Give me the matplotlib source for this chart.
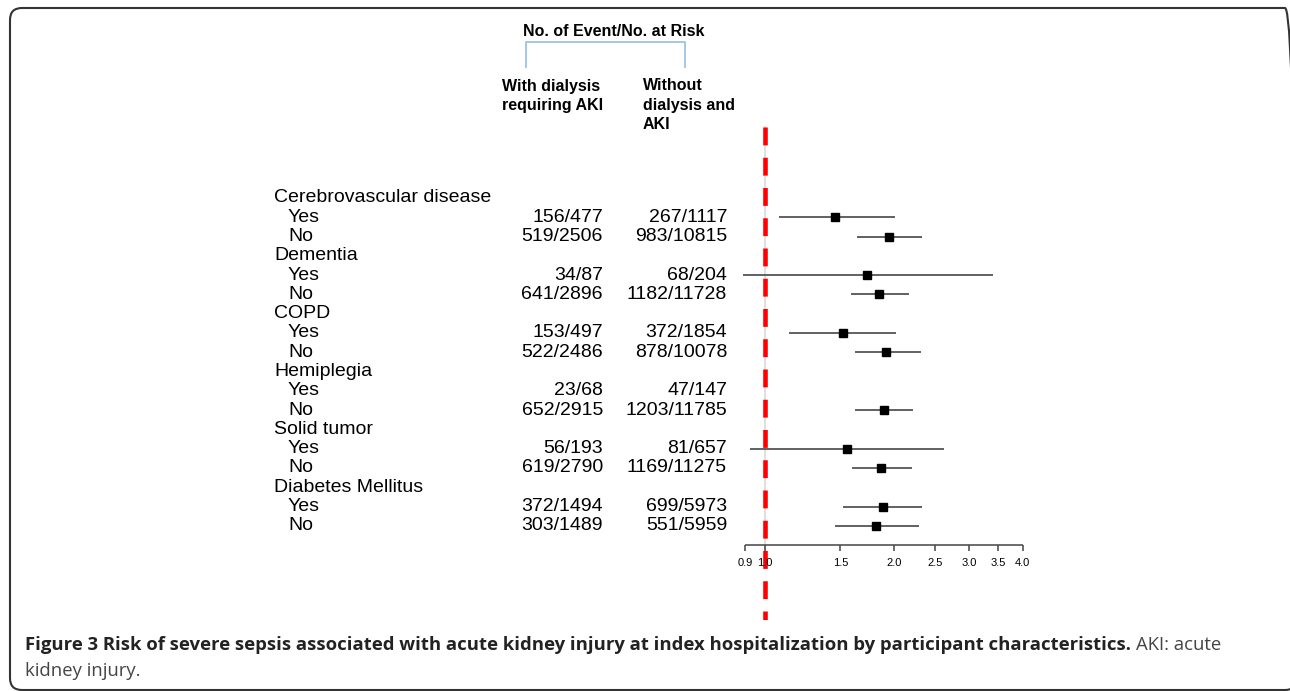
import numpy as np
import matplotlib
matplotlib.use('Agg')
import matplotlib.pyplot as plt
from matplotlib.patches import FancyBboxPatch
from matplotlib.transforms import blended_transform_factory, IdentityTransform

# --- dati ---
groups = ['Cerebrovascular disease', 'Dementia', 'COPD', 'Hemiplegia', 'Solid tumor', 'Diabetes Mellitus']
levels = ['Yes', 'No']
with_aki = ['156/477', '519/2506', '34/87', '641/2896', '153/497', '522/2486',
            '23/68', '652/2915', '56/193', '619/2790', '372/1494', '303/1489']
without_aki = ['267/1117', '983/10815', '68/204', '1182/11728', '372/1854', '878/10078',
               '47/147', '1203/11785', '81/657', '1169/11275', '699/5973', '551/5959']
hr = [1.46, 1.95, 1.73, 1.85, 1.52, 1.92, np.nan, 1.90, 1.55, 1.87, 1.89, 1.82]
ci_lo = [1.08, 1.64, 0.89, 1.59, 1.14, 1.62, np.nan, 1.62, 0.92, 1.60, 1.52, 1.46]
ci_hi = [2.01, 2.33, 3.41, 2.17, 2.02, 2.31, np.nan, 2.22, 2.62, 2.20, 2.33, 2.29]
ticks = [0.9, 1.0, 1.5, 2.0, 2.5, 3.0, 3.5, 4.0]
tick_labels = ['0.9', '1.0', '1.5', '2.0', '2.5', '3.0', '3.5', '4.0']

W, H = 1290, 691
fig = plt.figure(figsize=(W / 100, H / 100), dpi=100)


def px(x, y):
    return x / W, 1 - y / H


font = 'Liberation Sans'

# forest plot axes
ax = fig.add_axes([730 / W, (H - 620) / H, 310 / W, 500 / H])
ax.set_xscale('log')
ax.set_xlim(0.8284, 4.386)
ax.set_ylim(21.88, -4.04)
ax.axis('off')

# righe: gruppo, Yes, No
group_rows = [3 * i for i in range(len(groups))]
item_rows = []
for g in group_rows:
    item_rows += [g + 1, g + 2]
item_rows = np.array(item_rows)

trans = blended_transform_factory(fig.transFigure, ax.transData)
for g, name in zip(group_rows, groups):
    fig.text(274 / W, g, name, transform=trans, ha='left', va='center',
             fontsize=14, family=font)
for i, r in enumerate(item_rows):
    fig.text(288 / W, r, levels[i % 2], transform=trans, ha='left', va='center',
             fontsize=14, family=font)
    fig.text(603 / W, r, with_aki[i], transform=trans, ha='right', va='center',
             fontsize=14, family=font)
    fig.text(727 / W, r, without_aki[i], transform=trans, ha='right', va='center',
             fontsize=14, family=font)

# linea di riferimento grigia + linea rossa tratteggiata
ax.plot([1.0, 1.0], [-3.7, 18.3], color='#d9d9d9', lw=1.2, zorder=1)
ax.plot([1.0, 1.0], [-3.68, 21.88], color='#ff0000', lw=3.3,
        linestyle=(0, (3.9, 2.7)), zorder=2, solid_capstyle='butt')

# intervalli di confidenza
ax.hlines(item_rows, ci_lo, ci_hi, color='#555555', lw=1.3, zorder=3)
ax.plot(hr, item_rows, 's', color='black', ms=5.6, zorder=4)

# asse x disegnato a mano
axis_row = 18.0
ax.hlines(axis_row, ticks[0], ticks[-1], color='#444444', lw=1.1)
ax.vlines(ticks, axis_row, axis_row + 0.3, color='#444444', lw=1.1)
for t, lab in zip(ticks, tick_labels):
    ax.text(t, axis_row + 0.95, lab, ha='center', va='center', fontsize=8, family=font)

# intestazioni
fig.text(*px(614, 31), 'No. of Event/No. at Risk', ha='center', va='center',
         fontsize=11.5, fontweight='bold', family=font)
bx = [526 / W, 526 / W, 685 / W, 685 / W]
by = [1 - 67 / H, 1 - 42 / H, 1 - 42 / H, 1 - 67 / H]
fig.add_artist(plt.Line2D(bx, by, color='#9dc3e6', lw=1.3, transform=fig.transFigure))
for j, line in enumerate(['With dialysis', 'requiring AKI']):
    fig.text(*px(502, 86 + 19.3 * j), line, ha='left', va='center',
             fontsize=11.5, fontweight='bold', family=font)
for j, line in enumerate(['Without', 'dialysis and', 'AKI']):
    fig.text(*px(643, 86 + 19.3 * j), line, ha='left', va='center',
             fontsize=11.5, fontweight='bold', family=font)

# cornice arrotondata (in pixel), il lato destro esce dall'immagine
frame = FancyBboxPatch((10, H - 690), 1287, 682, boxstyle='round,pad=0,rounding_size=12',
                       transform=IdentityTransform(), fill=False, edgecolor='#333333', lw=1.5)
fig.add_artist(frame)

# didascalia
cap1 = fig.text(*px(25, 645), 'Figure 3 Risk of severe sepsis associated with acute kidney injury at index '
                'hospitalization by participant characteristics.', ha='left', va='center',
                fontsize=13.3, fontweight='bold', family='Open Sans', color='#222222')
fig.canvas.draw()
bb = cap1.get_window_extent()
fig.text((bb.x1 + 5) / W, 1 - 645 / H, 'AKI: acute', ha='left', va='center',
         fontsize=13.3, family='Open Sans', color='#444444')
fig.text(*px(25, 671), 'kidney injury.', ha='left', va='center',
         fontsize=13.3, family='Open Sans', color='#444444')

fig.savefig('out.png', dpi=100)
